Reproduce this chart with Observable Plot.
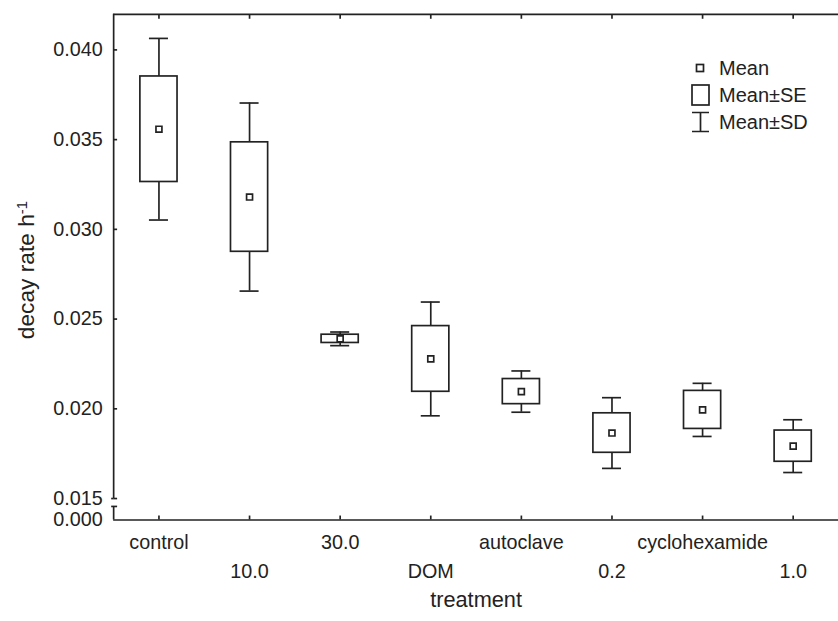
<!DOCTYPE html>
<html><head><meta charset="utf-8">
<script src="https://cdn.jsdelivr.net/npm/d3@7"></script>
<script src="https://cdn.jsdelivr.net/npm/@observablehq/plot@0.6"></script>
<style>
html,body{margin:0;padding:0;background:#fff;overflow:hidden;}
#wrap{position:relative;width:838px;height:621px;overflow:hidden;}
#chart{position:absolute;left:0;top:0;}
.lg{position:absolute;left:690px;height:22px;display:flex;align-items:center;font:20px "Liberation Sans",Arial,sans-serif;color:#222;}
.lg svg{margin-right:8px;}
</style></head><body>
<div id="wrap"><div id="chart"></div><div id="legend"></div></div>
<script>
const categories = ["control","10.0","30.0","DOM","autoclave","0.2","cyclohexamide","1.0"];
const means = [0.03558,0.03180,0.02390,0.02278,0.02096,0.01865,0.01994,0.01792];
const se    = [0.00294,0.00305,0.00023,0.00183,0.00070,0.00110,0.00106,0.00087];
const sd    = [0.00506,0.00524,0.00038,0.00317,0.00115,0.00197,0.00148,0.00147];
const yTickValues = [0.015,0.020,0.025,0.030,0.035,0.040];
const yBottomLabel = "0.000";
const legendItems = ["Mean","Mean\u00b1SE","Mean\u00b1SD"];
const xTitle = "treatment";
const yTitle = "decay rate h";
const yTitleSup = "-1";

const yMin = 0.013805, yMax = 0.041982, yBreakLow = 0.01456, yBreakHigh = 0.015;
const idx = categories.map((_, i) => i);
const ink = "#222";
const sw = 1.7;

const chart = Plot.plot({
  width: 848, height: 621,
  marginLeft: 114.5, marginRight: 0, marginTop: 14, marginBottom: 95.3,
  style: {fontFamily: "Liberation Sans, Arial, sans-serif", fontSize: "20px", color: ink, background: "white"},
  x: {type: "linear", domain: [-0.5, categories.length - 0.5], axis: null},
  y: {domain: [yMin, yMax], axis: null},
  marks: [
    Plot.ruleY([yMax], {stroke: ink, strokeWidth: sw}),
    Plot.ruleY([yMin], {stroke: ink, strokeWidth: sw}),
    Plot.ruleX([-0.5], {y1: yBreakHigh, y2: yMax, stroke: ink, strokeWidth: sw}),
    Plot.ruleX([-0.5], {y1: yMin, y2: yBreakLow, stroke: ink, strokeWidth: sw}),
    Plot.axisY({ticks: yTickValues, tickSize: -4, tickPadding: 15, tickFormat: d3.format(".3f"), stroke: ink, strokeWidth: sw}),
    Plot.axisY({ticks: [yBreakLow], tickSize: -4, tickFormat: () => "", stroke: ink, strokeWidth: sw}),
    Plot.axisY({ticks: [yBreakHigh, yBreakLow], tickSize: 2, tickFormat: () => "", stroke: ink, strokeWidth: sw}),
    Plot.axisY({ticks: [yMin], tickSize: 0, tickPadding: 11, tickFormat: () => yBottomLabel}),
    Plot.axisX({ticks: idx, tickSize: -4, tickFormat: () => "", stroke: ink, strokeWidth: sw}),
    Plot.axisX({anchor: "top", ticks: idx, tickSize: -4, tickFormat: () => "", stroke: ink, strokeWidth: sw}),
    Plot.text(idx.filter(i => i % 2 === 0), {x: i => i, text: i => categories[i], frameAnchor: "bottom", dy: 23, lineAnchor: "middle", fill: ink}),
    Plot.text(idx.filter(i => i % 2 === 1), {x: i => i, text: i => categories[i], frameAnchor: "bottom", dy: 52, lineAnchor: "middle", fill: ink}),
    Plot.text([xTitle], {frameAnchor: "bottom", dy: 81, lineAnchor: "middle", fill: ink, fontSize: 22}),
    Plot.text([yTitle], {frameAnchor: "left", textAnchor: "middle", dx: -88, dy: 3, rotate: -90, lineAnchor: "middle", fill: ink, fontSize: 23, className: "ytitle"}),
    Plot.ruleX(idx, {x: i => i, y1: i => means[i] - sd[i], y2: i => means[i] + sd[i], stroke: ink, strokeWidth: sw}),
    Plot.ruleY(idx, {y: i => means[i] + sd[i], x1: i => i - 0.105, x2: i => i + 0.105, stroke: ink, strokeWidth: sw}),
    Plot.ruleY(idx, {y: i => means[i] - sd[i], x1: i => i - 0.105, x2: i => i + 0.105, stroke: ink, strokeWidth: sw}),
    Plot.rect(idx, {x1: i => i - 0.205, x2: i => i + 0.205, y1: i => means[i] - se[i], y2: i => means[i] + se[i], fill: "white", stroke: ink, strokeWidth: sw}),
    Plot.dot(idx, {x: i => i, y: i => means[i], symbol: "square", r: 3.4, fill: "white", stroke: ink, strokeWidth: sw})
  ]
});

const yt = chart.querySelector(".ytitle text");
if (yt) {
  yt.textContent = "";
  const t1 = document.createElementNS("http://www.w3.org/2000/svg", "tspan");
  t1.textContent = yTitle;
  const t2 = document.createElementNS("http://www.w3.org/2000/svg", "tspan");
  t2.textContent = yTitleSup;
  t2.setAttribute("dy", "-0.45em");
  t2.setAttribute("font-size", "15px");
  yt.appendChild(t1); yt.appendChild(t2);
}
document.getElementById("chart").appendChild(chart);

const legend = document.getElementById("legend");
const icons = [
  '<svg width="21" height="22"><rect x="6.5" y="7.5" width="7" height="7" fill="white" stroke="#222" stroke-width="1.7"/></svg>',
  '<svg width="21" height="22"><rect x="2" y="1" width="17" height="20" fill="white" stroke="#222" stroke-width="1.7"/></svg>',
  '<svg width="21" height="22"><path d="M2,1.5H19M10.5,1.5V20.5M2,20.5H19" fill="none" stroke="#222" stroke-width="1.7"/></svg>'
];
const rowCenters = [68, 95, 122];
legendItems.forEach((t, i) => {
  const d = document.createElement("div");
  d.className = "lg";
  d.style.top = (rowCenters[i] - 11) + "px";
  d.innerHTML = icons[i] + "<span>" + t + "</span>";
  legend.appendChild(d);
});
</script>
</body></html>
